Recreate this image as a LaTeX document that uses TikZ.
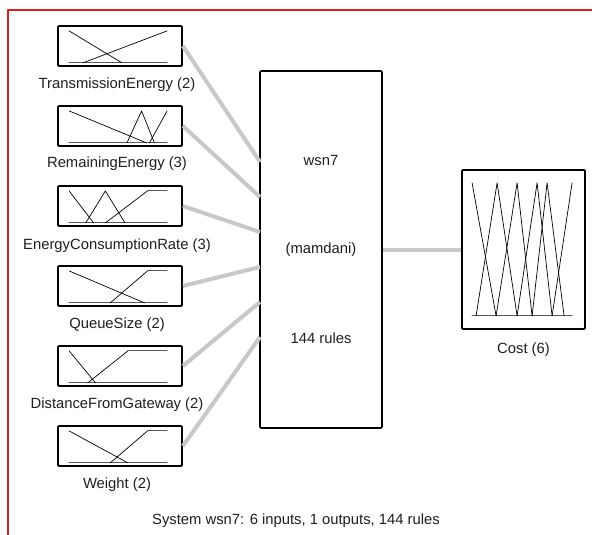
\documentclass[tikz,border=0pt]{standalone}
\usepackage{fontspec}
\setmainfont{Liberation Sans}
\definecolor{wirecol}{RGB}{200,200,200}
\definecolor{framecol}{RGB}{220,30,30}
\definecolor{txtcol}{RGB}{30,30,30}
\tikzset{
    lab/.style={
        font=\fontsize{14.8}{17}\selectfont, text=txtcol, inner sep=0pt
    }
}

\begin{document}
\begin{tikzpicture}[x=1pt,y=-1pt, line cap=round, line join=round]

\tikzset{
  varbox/.style={draw=black, line width=1.8pt, rounded corners=1pt, minimum width=124pt, minimum height=40pt, inner sep=0pt},
  sysbox/.style={draw=black, line width=1.6pt, rounded corners=1pt, minimum width=122pt, minimum height=357pt, inner sep=0pt},
  outbox/.style={draw=black, line width=1.8pt, rounded corners=1pt, minimum width=123pt, minimum height=159pt, inner sep=0pt},
  wire/.style={draw=wirecol, line width=4pt, line cap=butt},
  mf/.style={draw=black, line width=0.7pt},
  axis/.style={draw=black!65, line width=1.1pt},
}

\useasboundingbox (0,0) rectangle (592,535);

% red frame (top and left only)
\draw[framecol, line width=1.2pt, line cap=butt] (8,535) -- (8,10) -- (592,10);

% boxes
\node[varbox] (in1) at (120,46) {};
\node[varbox] (in2) at (120,126) {};
\node[varbox] (in3) at (120,206) {};
\node[varbox] (in4) at (120,286) {};
\node[varbox] (in5) at (120,366) {};
\node[varbox] (in6) at (120,446) {};
\node[sysbox] (sys) at (321,249.5) {};
\node[outbox] (out) at (523.5,249.5) {};

% wire ends on the system box
\coordinate (e1) at (260,162);
\coordinate (e2) at (260,197);
\coordinate (e3) at (260,232);
\coordinate (e4) at (260,267);
\coordinate (e5) at (260,302);
\coordinate (e6) at (260,337);

% wires
\draw[wire] (in1.east) -- (e1);
\draw[wire] (in2.east) -- (e2);
\draw[wire] (in3.east) -- (e3);
\draw[wire] (in4.east) -- (e4);
\draw[wire] (in5.east) -- (e5);
\draw[wire] (in6.east) -- (e6);
\draw[wire] (sys.east) -- (out.west);

% membership functions of the inputs
\begin{scope}[shift={(in1.south west)}, xshift=12pt, yshift=4pt, x=98pt, y=32pt]
  \draw[axis] (0,0) -- (1,0);
  \draw[mf] (0,1) -- (0.54,0);
  \draw[mf] (0.14,0) -- (1,1);
\end{scope}
\begin{scope}[shift={(in2.south west)}, xshift=12pt, yshift=4pt, x=98pt, y=32pt]
  \draw[axis] (0,0) -- (1,0);
  \draw[mf] (0,1) -- (0.79,0);
  \draw[mf] (0.59,0) -- (0.74,1) -- (0.87,0);
  \draw[mf] (0.82,0) -- (1,1);
\end{scope}
\begin{scope}[shift={(in3.south west)}, xshift=12pt, yshift=4pt, x=98pt, y=32pt]
  \draw[axis] (0,0) -- (1,0);
  \draw[mf] (0,1) -- (0.25,0);
  \draw[mf] (0.17,0) -- (0.37,1) -- (0.57,0);
  \draw[mf] (0.37,0) -- (0.80,1);
  \draw[axis] (0.80,1) -- (1,1);
\end{scope}
\begin{scope}[shift={(in4.south west)}, xshift=12pt, yshift=4pt, x=98pt, y=32pt]
  \draw[axis] (0,0) -- (1,0);
  \draw[mf] (0,1) -- (0.77,0);
  \draw[mf] (0.42,0) -- (0.80,1);
  \draw[axis] (0.80,1) -- (1,1);
\end{scope}
\begin{scope}[shift={(in5.south west)}, xshift=12pt, yshift=4pt, x=98pt, y=32pt]
  \draw[axis] (0,0) -- (1,0);
  \draw[mf] (0,1) -- (0.27,0);
  \draw[mf] (0.19,0) -- (0.60,1);
  \draw[axis] (0.60,1) -- (1,1);
\end{scope}
\begin{scope}[shift={(in6.south west)}, xshift=12pt, yshift=4pt, x=98pt, y=32pt]
  \draw[axis] (0,0) -- (1,0);
  \draw[mf] (0,1) -- (0.60,0);
  \draw[mf] (0.42,0) -- (0.80,1);
  \draw[axis] (0.80,1) -- (1,1);
\end{scope}

% membership functions of the output
\begin{scope}[shift={(out.south west)}, xshift=11pt, yshift=14pt, x=100pt, y=133pt]
  \draw[axis] (0,0) -- (1,0);
  \draw[mf] (0,1) -- (0.24,0);
  \draw[mf] (0.04,0) -- (0.25,1) -- (0.45,0);
  \draw[mf] (0.24,0) -- (0.45,1) -- (0.60,0);
  \draw[mf] (0.45,0) -- (0.65,1) -- (0.80,0);
  \draw[mf] (0.60,0) -- (0.75,1) -- (0.92,0);
  \draw[mf] (0.80,0) -- (1,1);
\end{scope}

% labels
\node[lab] (l1) at (117,85) {TransmissionEnergy (2)};
\node[lab] (l2) at (117,164) {RemainingEnergy (3)};
\node[lab] (l3) at (117,246) {EnergyConsumptionRate (3)};
\node[lab] (l4) at (117,325) {QueueSize (2)};
\node[lab] (l5) at (117,405) {DistanceFromGateway (2)};
\node[lab] (l6) at (117,485) {Weight (2)};
\node[lab] (name) at (321,160) {wsn7};
\node[lab] (type) at (321,250) {(mamdani)};
\node[lab] (rules) at (321,338) {144 rules};
\node[lab] (lout) at (523.5,350) {Cost (6)};
\node[lab] (caption) at (296,521) {System wsn7: 6 inputs, 1 outputs, 144 rules};

\end{tikzpicture}
\end{document}
